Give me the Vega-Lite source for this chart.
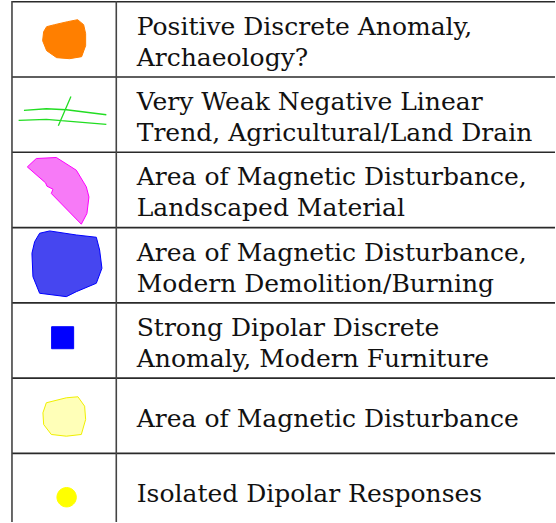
{
  "$schema": "https://vega.github.io/schema/vega-lite/v6.json",
  "width": 556,
  "height": 523,
  "autosize": {"type": "fit", "contains": "padding"},
  "padding": 0,
  "background": "white",
  "config": {"view": {"stroke": null}},
  "datasets": {
    "rows": [
      {"row": 1, "kind": "orange", "lines": 2, "label": "Positive Discrete Anomaly,\nArchaeology?"},
      {"row": 2, "kind": "green", "lines": 2, "label": "Very Weak Negative Linear\nTrend, Agricultural/Land Drain"},
      {"row": 3, "kind": "pink", "lines": 2, "label": "Area of Magnetic Disturbance,\nLandscaped Material"},
      {"row": 4, "kind": "blue", "lines": 2, "label": "Area of Magnetic Disturbance,\nModern Demolition/Burning"},
      {"row": 5, "kind": "square", "lines": 2, "label": "Strong Dipolar Discrete\nAnomaly, Modern Furniture"},
      {"row": 6, "kind": "yellowblob", "lines": 1, "label": "Area of Magnetic Disturbance"},
      {"row": 7, "kind": "yellowdot", "lines": 1, "label": "Isolated Dipolar Responses"}
    ],
    "edges": [
      {"edge": 0.5}, {"edge": 1.5}, {"edge": 2.5}, {"edge": 3.5},
      {"edge": 4.5}, {"edge": 5.5}, {"edge": 6.5}
    ],
    "cols": [{"col": 0}, {"col": 1}]
  },
  "layer": [
    {
      "data": {"name": "edges"},
      "mark": {"type": "rule", "stroke": "#2a2a2a", "strokeWidth": 1.6},
      "encoding": {
        "y": {"field": "edge", "type": "quantitative", "axis": null,
              "scale": {"domain": [0.4894, 7.412], "reverse": true, "nice": false, "zero": false}},
        "x": {"datum": 0, "type": "quantitative", "axis": null,
              "scale": {"domain": [-0.1148, 5.2057], "nice": false, "zero": false}},
        "x2": {"datum": 5.2057}
      }
    },
    {
      "data": {"name": "cols"},
      "mark": {"type": "rule", "stroke": "#444444", "strokeWidth": 1.6},
      "encoding": {
        "x": {"field": "col", "type": "quantitative", "axis": null,
              "scale": {"domain": [-0.1148, 5.2057], "nice": false, "zero": false}}
      }
    },
    {
      "data": {"name": "rows"},
      "transform": [{"filter": "datum.kind !== 'green'"}],
      "mark": {"type": "point", "filled": true, "size": 3600, "strokeWidth": 1, "strokeJoin": "round"},
      "encoding": {
        "x": {"datum": 0.5, "type": "quantitative", "axis": null,
              "scale": {"domain": [-0.1148, 5.2057], "nice": false, "zero": false}},
        "y": {"field": "row", "type": "quantitative", "axis": null,
              "scale": {"domain": [0.4894, 7.412], "reverse": true, "nice": false, "zero": false}},
        "shape": {
          "field": "kind", "type": "nominal", "legend": null,
          "scale": {
            "domain": ["orange", "pink", "blue", "square", "yellowblob", "yellowdot"],
            "range": [
              "M-0.583,-0.425 L-0.317,-0.492 L0.117,-0.592 L0.45,-0.658 L0.65,-0.492 L0.717,-0.192 L0.717,0.208 L0.583,0.575 L0.183,0.642 L-0.25,0.608 L-0.583,0.375 L-0.717,0.042 L-0.683,-0.258 Z",
              "M-1.227,-0.768 L-0.927,-1.048 L-0.26,-1.082 L0.407,-0.658 L0.74,-0.102 L0.827,0.232 L0.76,0.785 L0.573,1.142 L-0.427,0.118 L-0.373,-0.025 L-0.573,-0.125 L-0.617,-0.235 Z",
              "M-0.817,-1.065 L-0.483,-1.142 L0.407,-1.008 L1.073,-0.932 L1.183,-0.508 L1.26,0.102 L1.073,0.602 L0.407,0.882 L0.073,1.048 L-0.817,0.935 L-1.04,0.382 L-1.073,-0.398 L-0.983,-0.785 Z",
              "M-0.417,-0.458 L0.317,-0.458 L0.317,0.275 L-0.417,0.275 Z",
              "M-0.707,-0.098 L-0.593,-0.432 L0.073,-0.598 L0.46,-0.632 L0.683,-0.318 L0.717,0.125 L0.573,0.625 L0.073,0.682 L-0.427,0.625 L-0.683,0.292 Z",
              "M-0.24,0.208 A0.323,0.323 0 1 0 0.406,0.208 A0.323,0.323 0 1 0 -0.24,0.208 Z"
            ]
          }
        },
        "fill": {
          "field": "kind", "type": "nominal", "legend": null,
          "scale": {
            "domain": ["orange", "pink", "blue", "square", "yellowblob", "yellowdot"],
            "range": ["#ff7f00", "#f77af7", "#4646f0", "#0000ff", "#ffffb8", "#ffff00"]
          }
        },
        "stroke": {
          "field": "kind", "type": "nominal", "legend": null,
          "scale": {
            "domain": ["orange", "pink", "blue", "square", "yellowblob", "yellowdot"],
            "range": ["#ff7f00", "#ff00ff", "#0000ff", "#0000ff", "#f0f000", "#ffff00"]
          }
        },
        "opacity": {"value": 1}
      }
    },
    {
      "data": {"name": "rows"},
      "transform": [{"filter": "datum.kind === 'green'"}],
      "mark": {"type": "point", "filled": false, "size": 3600, "stroke": "#22dd22", "strokeWidth": 1.3, "opacity": 1,
               "shape": "M-1.34,-0.142 L-0.593,-0.198 L0.073,-0.165 L1.407,0.002 M-1.517,0.192 L-0.593,0.158 L1.407,0.325 M0.227,-0.608 L-0.193,0.368"},
      "encoding": {
        "x": {"datum": 0.5, "type": "quantitative", "axis": null,
              "scale": {"domain": [-0.1148, 5.2057], "nice": false, "zero": false}},
        "y": {"field": "row", "type": "quantitative", "axis": null,
              "scale": {"domain": [0.4894, 7.412], "reverse": true, "nice": false, "zero": false}}
      }
    },
    {
      "data": {"name": "rows"},
      "transform": [{"filter": "datum.lines === 2"}],
      "mark": {"type": "text", "align": "left", "baseline": "middle", "font": "DejaVu Serif",
               "fontSize": 25, "lineHeight": 31, "lineBreak": "\n", "fill": "#111111", "dy": -12.7},
      "encoding": {
        "x": {"datum": 1.196, "type": "quantitative", "axis": null,
              "scale": {"domain": [-0.1148, 5.2057], "nice": false, "zero": false}},
        "y": {"field": "row", "type": "quantitative", "axis": null,
              "scale": {"domain": [0.4894, 7.412], "reverse": true, "nice": false, "zero": false}},
        "text": {"field": "label", "type": "nominal"}
      }
    },
    {
      "data": {"name": "rows"},
      "transform": [{"filter": "datum.lines === 1"}],
      "mark": {"type": "text", "align": "left", "baseline": "middle", "font": "DejaVu Serif",
               "fontSize": 25, "fill": "#111111", "dy": 3},
      "encoding": {
        "x": {"datum": 1.196, "type": "quantitative", "axis": null,
              "scale": {"domain": [-0.1148, 5.2057], "nice": false, "zero": false}},
        "y": {"field": "row", "type": "quantitative", "axis": null,
              "scale": {"domain": [0.4894, 7.412], "reverse": true, "nice": false, "zero": false}},
        "text": {"field": "label", "type": "nominal"}
      }
    }
  ]
}
